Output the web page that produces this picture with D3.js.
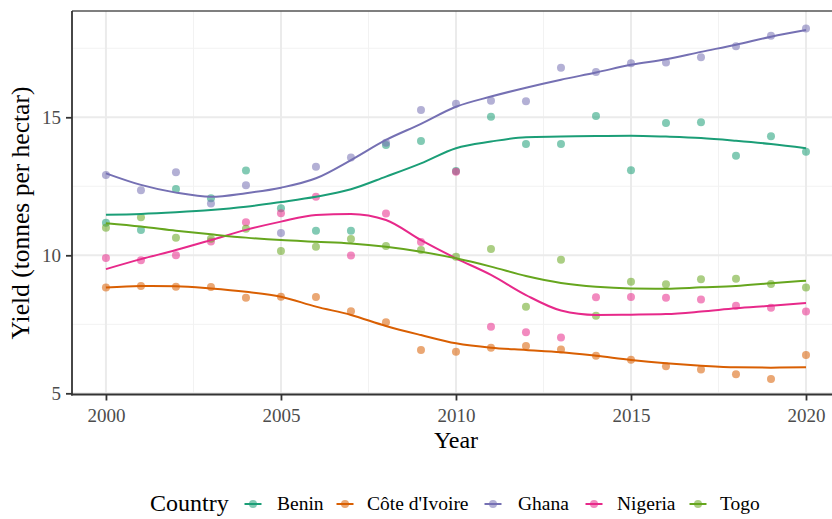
<!DOCTYPE html>
<html><head><meta charset="utf-8">
<script src="https://cdn.jsdelivr.net/npm/d3@7"></script>
<style>
body{margin:0;background:#fff}
svg{display:block}
text{font-family:"Liberation Serif","Times New Roman",serif}
</style>
</head><body>
<svg id="chart" width="832" height="519"></svg>
<script>
// ---------- data ----------
const years = [2000,2001,2002,2003,2004,2005,2006,2007,2008,2009,2010,2011,2012,2013,2014,2015,2016,2017,2018,2019,2020];
const countries = ["Benin","Côte d'Ivoire","Ghana","Nigeria","Togo"];
const colors = ["#1B9E77","#D95F02","#7570B3","#E7298A","#66A61E"];

// observed yields (points)
const beninYield   = [11.18,10.92,12.40,12.07,13.07,11.70,10.89,10.89,14.00,14.14,13.05,15.02,14.03,14.03,15.05,13.08,14.79,14.82,13.61,14.31,13.75];
const coteYield    = [8.83,8.89,8.86,8.85,8.46,8.50,8.49,7.97,7.57,6.57,6.51,6.65,6.71,6.59,6.36,6.22,5.98,5.86,5.69,5.52,6.39];
const ghanaYield   = [12.91,12.36,13.01,11.88,12.54,10.81,13.21,13.54,14.08,15.26,15.49,15.60,15.58,16.79,16.64,16.96,16.98,17.17,17.57,17.95,18.22];
const nigeriaYield = [9.90,9.82,10.00,10.50,11.20,11.52,12.12,9.99,11.51,10.48,13.03,7.41,7.21,7.02,8.48,8.49,8.46,8.40,8.17,8.10,7.96];
const togoYield    = [11.00,11.38,10.64,10.60,10.96,10.16,10.31,10.59,10.34,10.19,9.95,10.23,8.14,9.84,7.81,9.04,8.95,9.13,9.15,8.96,8.83];

// smoothed trend
const beninTrend   = [11.47,11.50,11.56,11.64,11.76,11.93,12.12,12.39,12.85,13.33,13.88,14.12,14.28,14.30,14.32,14.33,14.30,14.25,14.15,14.03,13.88];
const coteTrend    = [8.83,8.89,8.88,8.80,8.68,8.50,8.14,7.84,7.44,7.11,6.81,6.65,6.57,6.49,6.36,6.21,6.09,6.00,5.94,5.93,5.94];
const ghanaTrend   = [12.97,12.55,12.27,12.12,12.25,12.45,12.79,13.45,14.18,14.76,15.38,15.75,16.07,16.36,16.62,16.90,17.10,17.37,17.63,17.92,18.16];
const nigeriaTrend = [9.50,9.86,10.19,10.55,10.92,11.22,11.46,11.50,11.28,10.55,9.89,9.29,8.56,8.00,7.84,7.85,7.87,7.96,8.08,8.17,8.27];
const togoTrend    = [11.16,11.04,10.89,10.76,10.64,10.55,10.49,10.43,10.31,10.13,9.89,9.59,9.25,9.00,8.86,8.80,8.79,8.84,8.89,8.99,9.08];

const xTicks = [2000,2005,2010,2015,2020];
const yTicks = [5,10,15];
const xMinor = [2002.5,2007.5,2012.5,2017.5];
const yMinor = [7.5,12.5,17.5];

const yieldSeries = [beninYield,coteYield,ghanaYield,nigeriaYield,togoYield];
const trendSeries = [beninTrend,coteTrend,ghanaTrend,nigeriaTrend,togoTrend];

// ---------- layout ----------
const svg = d3.select("#chart");
const pL = 72, pR = 841, pT = 11, pB = 394.5;
const x = d3.scaleLinear().domain([1999.03, 2021]).range([pL, pR]);
const y = d3.scaleLinear().domain([4.957, 18.85]).range([pB, pT]);
const color = d3.scaleOrdinal().domain(countries).range(colors);

const panel = svg.append("g");
panel.append("rect").attr("x",pL).attr("y",pT).attr("width",pR-pL).attr("height",pB-pT).attr("fill","#fff");

// minor grid
panel.selectAll(".vmin").data(xMinor).enter().append("line")
  .attr("x1",d=>x(d)).attr("x2",d=>x(d)).attr("y1",pT).attr("y2",pB)
  .attr("stroke","#f2f2f2").attr("stroke-width",1);
panel.selectAll(".hmin").data(yMinor).enter().append("line")
  .attr("x1",pL).attr("x2",pR).attr("y1",d=>y(d)).attr("y2",d=>y(d))
  .attr("stroke","#f2f2f2").attr("stroke-width",1);
// major grid
panel.selectAll(".vmaj").data(xTicks).enter().append("line")
  .attr("x1",d=>x(d)).attr("x2",d=>x(d)).attr("y1",pT).attr("y2",pB)
  .attr("stroke","#ebebeb").attr("stroke-width",2);
panel.selectAll(".hmaj").data(yTicks).enter().append("line")
  .attr("x1",pL).attr("x2",pR).attr("y1",d=>y(d)).attr("y2",d=>y(d))
  .attr("stroke","#ebebeb").attr("stroke-width",2);

// points
const pts = [];
countries.forEach((c,i)=>years.forEach((yr,j)=>pts.push({c, yr, v: yieldSeries[i][j]})));
svg.append("g").selectAll("circle").data(pts).enter().append("circle")
  .attr("cx",d=>x(d.yr)).attr("cy",d=>y(d.v)).attr("r",4)
  .attr("fill",d=>color(d.c)).attr("fill-opacity",0.55);

// trend lines
const line = d3.line().x(d=>x(d[0])).y(d=>y(d[1])).curve(d3.curveMonotoneX);
svg.append("g").selectAll("path").data(countries).enter().append("path")
  .attr("d",(c,i)=>line(years.map((yr,j)=>[yr, trendSeries[i][j]])))
  .attr("fill","none").attr("stroke",c=>color(c)).attr("stroke-width",2);

// panel border (top) and axis lines
svg.append("line").attr("x1",pL).attr("x2",pR).attr("y1",pT).attr("y2",pT)
  .attr("stroke","#555").attr("stroke-width",1.3);
svg.append("line").attr("x1",pL).attr("x2",pL).attr("y1",pT).attr("y2",pB+1)
  .attr("stroke","#333").attr("stroke-width",1.8);
svg.append("line").attr("x1",pL-1).attr("x2",pR).attr("y1",pB).attr("y2",pB)
  .attr("stroke","#333").attr("stroke-width",1.8);

// axes
const xAxis = svg.append("g").attr("transform",`translate(0,${pB})`)
  .call(d3.axisBottom(x).tickValues(xTicks).tickFormat(d3.format("d")).tickSize(6).tickPadding(8));
const yAxis = svg.append("g").attr("transform",`translate(${pL},0)`)
  .call(d3.axisLeft(y).tickValues(yTicks).tickSize(6).tickPadding(5));
[xAxis,yAxis].forEach(a=>{
  a.select(".domain").remove();
  a.selectAll(".tick line").attr("stroke","#333").attr("stroke-width",1.8);
  a.selectAll(".tick text").attr("fill","#4d4d4d").style("font-size","19px").style("font-family","Liberation Serif");
});

// titles
svg.append("text").attr("x",456).attr("y",448).attr("text-anchor","middle")
  .style("font-size","24px").attr("fill","#000").text("Year");
svg.append("text").attr("transform","translate(29,213) rotate(-90)").attr("text-anchor","middle")
  .style("font-size","25.5px").attr("fill","#000").text("Yield (tonnes per hectar)");

// legend
const leg = svg.append("g");
leg.append("text").attr("x",150).attr("y",511).style("font-size","24px").attr("fill","#000").text("Country");
const keyX = [253,345,493,594,698];
const labX = [277,367,518,617,720];
countries.forEach((c,i)=>{
  leg.append("line").attr("x1",keyX[i]-8.5).attr("x2",keyX[i]+8.5).attr("y1",504).attr("y2",504)
    .attr("stroke",color(c)).attr("stroke-width",2);
  leg.append("circle").attr("cx",keyX[i]).attr("cy",504).attr("r",4)
    .attr("fill",color(c)).attr("fill-opacity",0.55);
  leg.append("text").attr("x",labX[i]).attr("y",510).style("font-size","19.5px").attr("fill","#000").text(c);
});
</script>
</body></html>
